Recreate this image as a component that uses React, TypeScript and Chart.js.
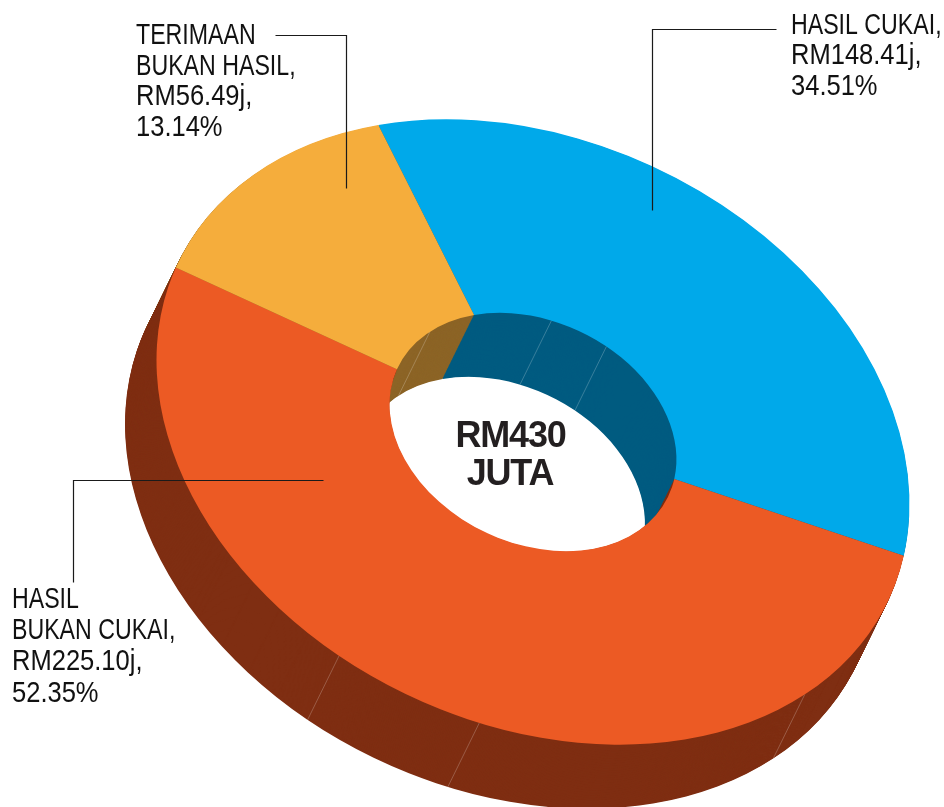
import React, { useEffect, useRef } from "react";
import { Chart, registerables } from "chart.js";

Chart.register(...registerables);

const categories = ["HASIL CUKAI", "HASIL BUKAN CUKAI", "TERIMAAN BUKAN HASIL"];
const amounts = [148.41, 225.1, 56.49];
const faceColors = ["#00a9ea", "#ec5a24", "#f5ad3c"];
const wallColors = ["#005b80", "#7f2e12", "#8c6426"];
const outerSeamDegrees = [43.8, 98.2, 121.0];
const innerSeamDegrees = [-135.9, -82.6, -59.2];
const centerLines = ["RM430", "JUTA"];
const cukaiLines = ["HASIL CUKAI,", "RM148.41j,", "34.51%"];
const terimaanLines = ["TERIMAAN", "BUKAN HASIL,", "RM56.49j,", "13.14%"];
const bukanCukaiLines = ["HASIL", "BUKAN CUKAI,", "RM225.10j,", "52.35%"];

// View of the tilted disc: screen centre, affine matrix of the unit circle, extrusion vector
const CENTER = { x: 533, y: 432 };
const M = { a: 376.5, b: 71.9, c: 0, d: 304.3 };
const DEPTH = { x: -31.5, y: 64 };
const LAYERS = 90;
const CUTOUT = 0.381;
const LABEL_STRETCH = 0.785;
const NUMBER_STRETCH = 0.865;

const labelBlocks = [
  { lines: cukaiLines, x: 791, ys: [34, 64, 95] },
  { lines: terimaanLines, x: 136, ys: [44, 75, 105, 136] },
  { lines: bukanCukaiLines, x: 12, ys: [608, 639, 670, 702] },
];
const leaders = [
  [[275, 35], [346, 35], [346, 188]],
  [[776, 29], [652, 29], [652, 210]],
  [[323, 480], [73, 480], [73, 582]],
];

const applyFace = (ctx: CanvasRenderingContext2D, arc: any) => {
  const k = 1 / arc.outerRadius;
  ctx.translate(CENTER.x, CENTER.y);
  ctx.transform(M.a * k, M.b * k, M.c * k, M.d * k, 0, 0);
  ctx.translate(-arc.x, -arc.y);
};

const projectPoint = (deg: number, r: number) => {
  const t = (deg * Math.PI) / 180;
  const ux = Math.cos(t) * r;
  const uy = Math.sin(t) * r;
  return { x: CENTER.x + M.a * ux + M.c * uy, y: CENTER.y + M.b * ux + M.d * uy };
};

const discPlugin = {
  id: "disc3d",
  beforeDatasetsDraw(chart: any) {
    const ctx = chart.ctx as CanvasRenderingContext2D;
    const arcs = chart.getDatasetMeta(0).data as any[];
    ctx.save();
    for (let s = LAYERS; s >= 1; s--) {
      ctx.save();
      ctx.translate((DEPTH.x * s) / LAYERS, (DEPTH.y * s) / LAYERS);
      applyFace(ctx, arcs[0]);
      arcs.forEach((arc, i) => {
        const clone = Object.create(arc);
        clone.options = { ...arc.options, backgroundColor: wallColors[i], borderWidth: 0 };
        clone.draw(ctx);
      });
      ctx.restore();
    }
    ctx.strokeStyle = "rgba(255,255,255,0.28)";
    ctx.lineWidth = 0.8;
    const seam = (deg: number, r: number) => {
      const p = projectPoint(deg, r);
      ctx.beginPath();
      ctx.moveTo(p.x, p.y);
      ctx.lineTo(p.x + DEPTH.x, p.y + DEPTH.y);
      ctx.stroke();
    };
    outerSeamDegrees.forEach((d) => seam(d, 1));
    innerSeamDegrees.forEach((d) => seam(d, CUTOUT));
    applyFace(ctx, arcs[0]);
  },
  afterDatasetsDraw(chart: any) {
    const ctx = chart.ctx as CanvasRenderingContext2D;
    ctx.restore();
    ctx.save();
    ctx.strokeStyle = "#1a1a1a";
    ctx.lineWidth = 1.2;
    leaders.forEach((pts) => {
      ctx.beginPath();
      pts.forEach(([x, y], i) => (i ? ctx.lineTo(x + 0.5, y + 0.5) : ctx.moveTo(x + 0.5, y + 0.5)));
      ctx.stroke();
    });
    ctx.fillStyle = "#111111";
    ctx.textAlign = "left";
    ctx.textBaseline = "alphabetic";
    ctx.font = '29.5px "Liberation Sans", sans-serif';
    labelBlocks.forEach((b) =>
      b.lines.forEach((t, i) => {
        ctx.save();
        ctx.translate(b.x, b.ys[i]);
        ctx.scale(/\d/.test(t) ? NUMBER_STRETCH : LABEL_STRETCH, 1);
        ctx.fillText(t, 0, 0);
        ctx.restore();
      })
    );
    ctx.fillStyle = "#231f20";
    ctx.textAlign = "center";
    ctx.font = 'bold 36px "Liberation Sans", sans-serif';
    (ctx as any).letterSpacing = "-1.2px";
    ctx.fillText(centerLines[0], 510.5, 447);
    ctx.fillText(centerLines[1], 510, 485);
    ctx.restore();
  },
};

export default function App() {
  const ref = useRef<HTMLCanvasElement | null>(null);
  useEffect(() => {
    if (!ref.current) return;
    const chart = new Chart(ref.current, {
      type: "doughnut",
      data: {
        labels: categories,
        datasets: [
          {
            data: amounts,
            backgroundColor: faceColors,
            borderWidth: 0,
            clip: false,
          } as any,
        ],
      },
      options: {
        responsive: false,
        animation: false,
        rotation: -24.25,
        cutout: `${CUTOUT * 100}%`,
        layout: { padding: 0 },
        plugins: { legend: { display: false }, tooltip: { enabled: false } },
      },
      plugins: [discPlugin],
    });
    return () => chart.destroy();
  }, []);
  return (
    <div style={{ position: "absolute", left: 0, top: 0, width: 944, height: 807, background: "#fff", overflow: "hidden" }}>
      <canvas ref={ref} width={944} height={807} style={{ display: "block" }} />
    </div>
  );
}
